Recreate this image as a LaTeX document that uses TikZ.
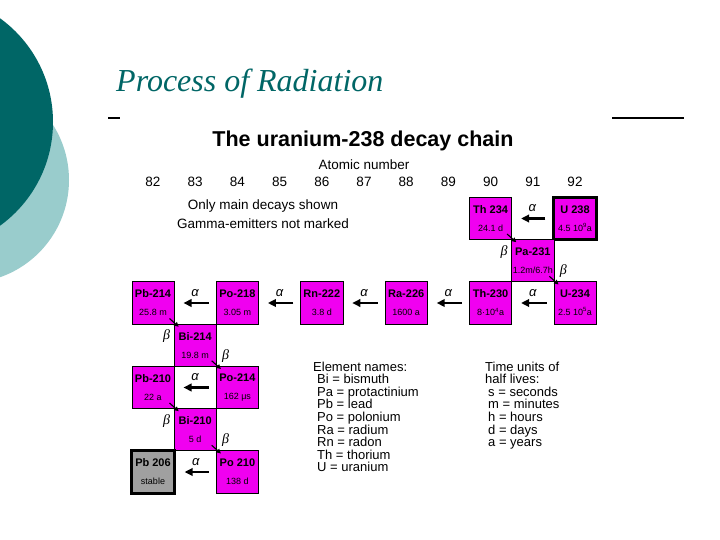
\documentclass[tikz,border=0pt]{standalone}
\usepackage{fontspec}
\setmainfont{Liberation Sans}
\newfontfamily\slidefont{Liberation Serif}
\definecolor{SlideTeal}{RGB}{0, 102, 102}
\definecolor{SlideAqua}{RGB}{153, 204, 204}
\definecolor{NuclideMagenta}{RGB}{240, 0, 240}
\definecolor{StableGrey}{RGB}{160, 160, 160}
\usetikzlibrary{shapes,arrows.meta,positioning,calc}

\begin{document}
\begin{tikzpicture}[x=1pt, y=-1pt,
    nuclide/.style={draw=black, minimum width=42.2pt, minimum height=42.25pt, inner sep=0pt,
                    align=center, font=\fontsize{9}{18}\selectfont},
    alphaarrow/.style={-{Triangle[length=8pt,width=7.5pt]}, line width=2.8pt, shorten <=7pt, shorten >=9pt},
    betaarrow/.style={-{Triangle[length=4.5pt,width=4.5pt]}, line width=1.1pt},
    alphalabel/.style={inner sep=0pt, font=\fontsize{13}{13}\selectfont\itshape},
    betalabel/.style={inner sep=0pt, font=\fontsize{14}{14}\selectfont\slidefont\itshape},
    chartnote/.style={inner sep=0pt, font=\fontsize{13.5}{19}\selectfont}]
  \fill[white] (0,0) rectangle (720,540);
  \useasboundingbox (0,0) rectangle (720,540);
  \fill[SlideAqua] (-34,180) circle (103pt);
  \fill[SlideTeal] (-75,122) circle (128pt);
  \node[anchor=base west, inner sep=0pt, text=SlideTeal, font=\fontsize{32}{32}\selectfont\slidefont\itshape]
    (slidetitle) at (116,92) {Process of Radiation};
  \draw[line width=2pt] (108,118) -- (120,118);
  \draw[line width=2pt] (612,118) -- (684,118);

  \node[anchor=base, inner sep=0pt, font=\fontsize{21.5}{22}\selectfont\bfseries] (charttitle) at (363,147)
    {The uranium-238 decay chain};
  \node[chartnote, anchor=base] (atomicnumber) at (364,170) {Atomic number};
  \foreach \z in {82,...,92} {
    \node[chartnote, anchor=base] (z\z) at ({153+42.2*(\z-82)},187) {\z};
  }
  \node[chartnote, anchor=north, align=center] (mainnote) at (263,200)
    {Only main decays shown\\Gamma-emitters not marked};

  \foreach \id/\nuc/\life/\col/\row/\clr/\lw in {
      U238/U 238/4.5 10\textsuperscript{9}a/92/0/NuclideMagenta/3,
      Th234/Th 234/24.1 d/90/0/NuclideMagenta/0.8,
      Pa231/Pa-231/{1.2m/6.7h}/91/1/NuclideMagenta/0.8,
      U234/U-234/2.5 10\textsuperscript{5}a/92/2/NuclideMagenta/0.8,
      Th230/Th-230/8·10\textsuperscript{4}a/90/2/NuclideMagenta/0.8,
      Ra226/Ra-226/1600 a/88/2/NuclideMagenta/0.8,
      Rn222/Rn-222/3.8 d/86/2/NuclideMagenta/0.8,
      Po218/Po-218/3.05 m/84/2/NuclideMagenta/0.8,
      Pb214/Pb-214/25.8 m/82/2/NuclideMagenta/0.8,
      Bi214/Bi-214/19.8 m/83/3/NuclideMagenta/0.8,
      Po214/Po-214/162 μs/84/4/NuclideMagenta/0.8,
      Pb210/Pb-210/22 a/82/4/NuclideMagenta/0.8,
      Bi210/Bi-210/5 d/83/5/NuclideMagenta/0.8,
      Po210/Po 210/138 d/84/6/NuclideMagenta/0.8,
      Pb206/Pb 206/stable/82/6/StableGrey/3} {
    \node[nuclide, fill=\clr, line width=\lw pt] (\id) at ({153+42.2*(\col-82)}, {218.5+42.25*\row})
      {{\fontsize{11}{18}\selectfont\bfseries \nuc}\\\life};
  }

  \foreach \src/\dst in {U238/Th234, U234/Th230, Th230/Ra226, Ra226/Rn222, Rn222/Po218,
                         Po218/Pb214, Po214/Pb210, Po210/Pb206} {
    \draw[alphaarrow] (\src.west) -- (\dst.east) node[midway, above=5pt, alphalabel] {α};
  }
  \foreach \src/\dst/\dx/\dy in {Th234/Pa231/-8/12, Pa231/U234/9/-11, Pb214/Bi214/-8/12,
                                 Bi214/Po214/9/-11, Pb210/Bi210/-8/12, Bi210/Po210/9/-11} {
    \draw[betaarrow] ([shift={(-5,-6)}]\src.south east) -- ([shift={(5,3)}]\dst.north west);
    \node[betalabel] at ([shift={(\dx,\dy)}]\src.south east) {β};
  }

  \node[chartnote, anchor=north west, align=left, font=\fontsize{13}{12.6}\selectfont] (elementnames) at (313,361.5)
    {Element names:\\
     \hspace*{4pt}Bi = bismuth\\
     \hspace*{4pt}Pa = protactinium\\
     \hspace*{4pt}Pb = lead\\
     \hspace*{4pt}Po = polonium\\
     \hspace*{4pt}Ra = radium\\
     \hspace*{4pt}Rn = radon\\
     \hspace*{4pt}Th = thorium\\
     \hspace*{4pt}U = uranium};
  \node[chartnote, anchor=north west, align=left, font=\fontsize{13}{12.6}\selectfont] (timeunits) at (485,361.5)
    {Time units of\\
     half lives:\\
     \hspace*{3pt}s = seconds\\
     \hspace*{3pt}m = minutes\\
     \hspace*{3pt}h = hours\\
     \hspace*{3pt}d = days\\
     \hspace*{3pt}a = years};
\end{tikzpicture}
\end{document}
